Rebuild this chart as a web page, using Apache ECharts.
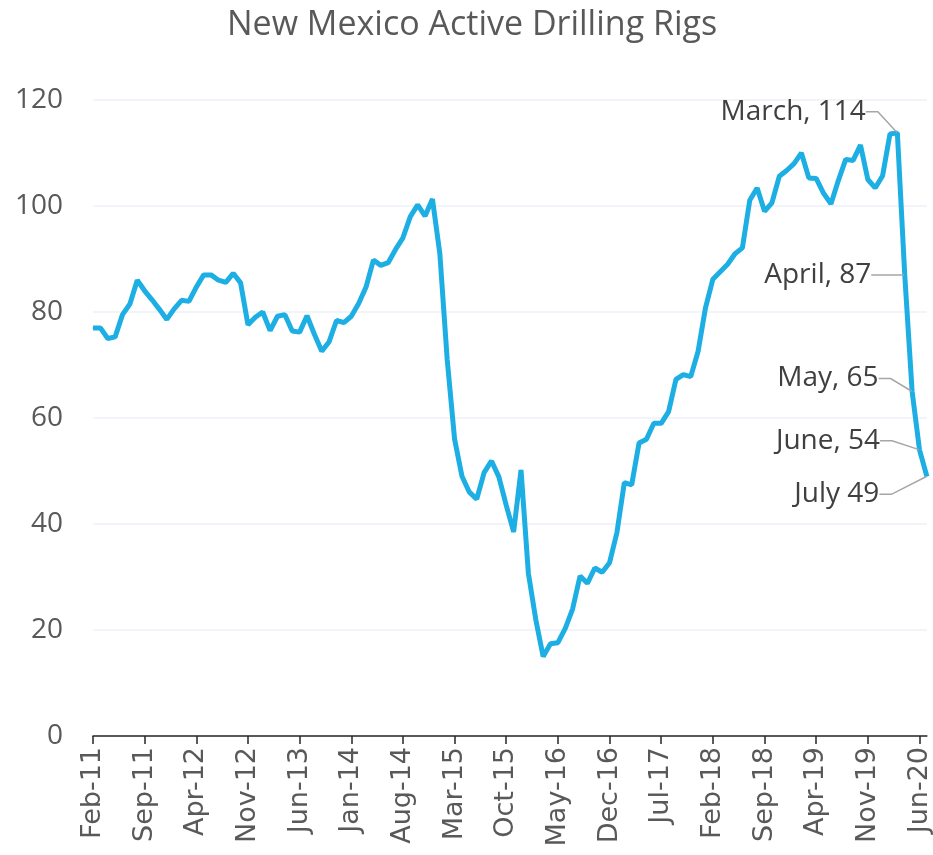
<!DOCTYPE html>
<html>
<head>
<meta charset="utf-8">
<title>New Mexico Active Drilling Rigs</title>
<script src="https://cdn.jsdelivr.net/npm/echarts@6/dist/echarts.min.js"></script>
<style>
  html, body { margin: 0; padding: 0; background: #fff; }
  #chart { width: 933px; height: 855px; }
</style>
</head>
<body>
<div id="chart"></div>
<script>
// months Feb-11 .. Jul-20
const months = [
  'Feb-11','Mar-11','Apr-11','May-11','Jun-11','Jul-11','Aug-11','Sep-11','Oct-11','Nov-11','Dec-11',
  'Jan-12','Feb-12','Mar-12','Apr-12','May-12','Jun-12','Jul-12','Aug-12','Sep-12','Oct-12','Nov-12','Dec-12',
  'Jan-13','Feb-13','Mar-13','Apr-13','May-13','Jun-13','Jul-13','Aug-13','Sep-13','Oct-13','Nov-13','Dec-13',
  'Jan-14','Feb-14','Mar-14','Apr-14','May-14','Jun-14','Jul-14','Aug-14','Sep-14','Oct-14','Nov-14','Dec-14',
  'Jan-15','Feb-15','Mar-15','Apr-15','May-15','Jun-15','Jul-15','Aug-15','Sep-15','Oct-15','Nov-15','Dec-15',
  'Jan-16','Feb-16','Mar-16','Apr-16','May-16','Jun-16','Jul-16','Aug-16','Sep-16','Oct-16','Nov-16','Dec-16',
  'Jan-17','Feb-17','Mar-17','Apr-17','May-17','Jun-17','Jul-17','Aug-17','Sep-17','Oct-17','Nov-17','Dec-17',
  'Jan-18','Feb-18','Mar-18','Apr-18','May-18','Jun-18','Jul-18','Aug-18','Sep-18','Oct-18','Nov-18','Dec-18',
  'Jan-19','Feb-19','Mar-19','Apr-19','May-19','Jun-19','Jul-19','Aug-19','Sep-19','Oct-19','Nov-19','Dec-19',
  'Jan-20','Feb-20','Mar-20','Apr-20','May-20','Jun-20','Jul-20'
];

// active rigs
const rigs = [
  77, 77, 75, 75.3, 79.5, 81.5, 86, 84, 82.3, 80.5, 78.6,
  80.6, 82.2, 82, 84.7, 87, 87, 86, 85.6, 87.3, 85.5, 77.6, 79,
  80, 76.5, 79.2, 79.5, 76.4, 76.2, 79.3, 75.8, 72.6, 74.4, 78.4, 78,
  79.2, 81.6, 84.7, 89.8, 88.8, 89.3, 91.8, 94, 98, 100.2, 98.1, 101.3,
  91, 71, 56, 49, 46, 44.7, 49.7, 51.9, 48.9, 43.5, 38.5, 50.2,
  30.7, 22, 15, 17.4, 17.6, 20.3, 24, 30.2, 28.8, 31.7, 30.9, 32.7,
  38.4, 47.8, 47.4, 55.3, 56, 59, 59, 61.2, 67.3, 68.2, 67.8, 72.6,
  80.8, 86.2, 87.6, 89, 91, 92.1, 101.1, 103.4, 99, 100.6, 105.6, 106.7,
  108, 110, 105.3, 105.2, 102.4, 100.4, 104.8, 108.8, 108.6, 111.5, 105, 103.4,
  105.7, 113.6, 113.8, 87, 65, 54, 49
];

// callouts on the last months
const calloutIndex = [109, 110, 111, 112, 113];
const calloutText = ['March, 114', 'April, 87', 'May, 65', 'June, 54', 'July 49'];
// label shift from the default left position
const calloutShift = { 109: [-26, -21], 110: [-28, 0], 111: [-28, -13], 112: [-34, -9], 113: [-42, 18] };

const seriesData = rigs.map((v, i) => {
  const k = calloutIndex.indexOf(i);
  if (k < 0) return v;
  return { value: v, label: { show: true, formatter: calloutText[k] } };
});

const chart = echarts.init(document.getElementById('chart'));

chart.setOption({
  animation: false,
  title: {
    text: 'New Mexico Active Drilling Rigs',
    left: 222,
    top: 3,
    textStyle: { fontFamily: 'Open Sans', fontSize: 34, fontWeight: 'normal', color: '#595959' }
  },
  grid: { left: 93, right: 6, top: 100, bottom: 119 },
  xAxis: {
    type: 'category',
    data: months,
    boundaryGap: false,
    axisLine: { lineStyle: { color: '#262626', width: 1.5 } },
    axisTick: { interval: 6, length: 8, lineStyle: { color: '#262626', width: 1.5 } },
    axisLabel: {
      interval: 6,
      rotate: 90,
      margin: 11,
      fontFamily: 'DejaVu Sans',
      fontSize: 27,
      color: '#595959'
    },
    splitLine: { show: false }
  },
  yAxis: {
    type: 'value',
    min: 0,
    max: 120,
    interval: 20,
    axisLine: { show: false },
    axisTick: { show: false },
    axisLabel: { margin: 30, fontFamily: 'Open Sans', fontSize: 28, color: '#595959' },
    splitLine: { lineStyle: { color: '#EDF2F7', width: 1.5 } }
  },
  series: [
    {
      type: 'line',
      data: seriesData,
      symbol: 'circle',
      symbolSize: 1,
      showAllSymbol: true,
      itemStyle: { color: '#1DAEE4' },
      lineStyle: { color: '#1DAEE4', width: 5 },
      label: {
        show: false,
        position: 'left',
        distance: 5,
        fontFamily: 'Open Sans',
        fontSize: 28,
        color: '#404040'
      },
      labelLine: { show: true, length2: 12, lineStyle: { color: '#A6A6A6', width: 1.5 } },
      labelLayout: function (params) {
        const s = calloutShift[params.dataIndex];
        return s ? { dx: s[0], dy: s[1] } : {};
      },
      emphasis: { disabled: true }
    }
  ]
});
</script>
</body>
</html>
